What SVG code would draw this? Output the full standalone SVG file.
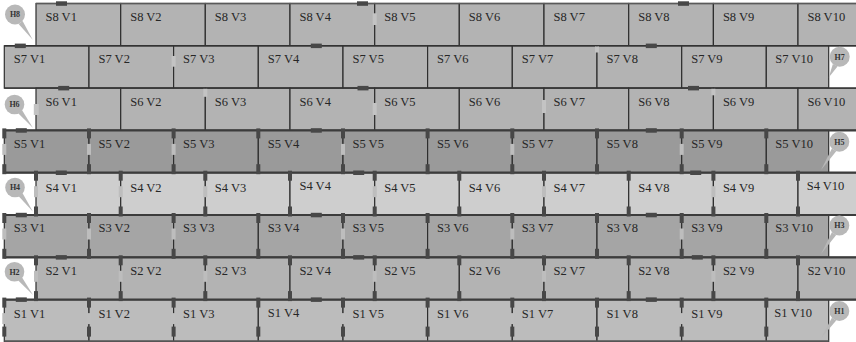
<svg xmlns="http://www.w3.org/2000/svg" xmlns:xlink="http://www.w3.org/1999/xlink" width="856" height="342" viewBox="0 0 856 342">
<style>
rect.c{stroke:#2e2e2e;stroke-width:1.2}
.a{fill:#b3b3b3}.s5{fill:#9a9a9a}.s4{fill:#cecece}.s3{fill:#a5a5a5}.s2{fill:#b3b3b3}.s1{fill:#bcbcbc}
text.t{font-family:"Liberation Serif","Times New Roman",serif;font-size:12.5px;fill:#262626}
.hb,.vb{fill:#474747}
.lb{fill:#bdbdbd}
.lu{fill:#c3c3c3}
.hl{fill:#b8b8b8}
text.h{font-family:"Liberation Serif","Times New Roman",serif;font-size:8px;font-weight:bold;fill:#333;text-anchor:middle}
line.b{stroke-linecap:butt}
</style>
<defs>
<g id="m1"><rect class="vb" x="-2" y="-2" width="4" height="10"/><rect class="lb" x="-2" y="13.5" width="4" height="11"/><rect class="vb" x="-2" y="33.8" width="4" height="10"/></g>
<g id="m0"><rect class="vb" x="-2" y="-2" width="4" height="10"/><rect class="vb" x="-2" y="33.8" width="4" height="10"/></g>
<g id="n1"><rect class="vb" x="-2" y="-2" width="4" height="10"/><rect class="lb" x="-2" y="13.5" width="4" height="11"/><rect class="vb" x="-2" y="27" width="4" height="10"/></g>
<g id="n0"><rect class="vb" x="-2" y="-2" width="4" height="10"/><rect class="vb" x="-2" y="27" width="4" height="10"/></g>
</defs>
<rect width="856" height="342" fill="#fff"/>
<g id="row-s8">
<g id="s8v1"><rect class="c a" x="36" y="3.5" width="84.7" height="42.3"/><text class="t" x="45.5" y="20.8">S8 V1</text></g>
<g id="s8v2"><rect class="c a" x="120.7" y="3.5" width="84.6" height="42.3"/><text class="t" x="130.2" y="20.8">S8 V2</text></g>
<g id="s8v3"><rect class="c a" x="205.3" y="3.5" width="84.7" height="42.3"/><text class="t" x="214.8" y="20.8">S8 V3</text></g>
<g id="s8v4"><rect class="c a" x="290" y="3.5" width="84.7" height="42.3"/><text class="t" x="299.5" y="20.8">S8 V4</text></g>
<g id="s8v5"><rect class="c a" x="374.7" y="3.5" width="84.6" height="42.3"/><text class="t" x="384.2" y="20.8">S8 V5</text></g>
<g id="s8v6"><rect class="c a" x="459.3" y="3.5" width="84.7" height="42.3"/><text class="t" x="468.8" y="20.8">S8 V6</text></g>
<g id="s8v7"><rect class="c a" x="544" y="3.5" width="84.7" height="42.3"/><text class="t" x="553.5" y="20.8">S8 V7</text></g>
<g id="s8v8"><rect class="c a" x="628.7" y="3.5" width="84.7" height="42.3"/><text class="t" x="638.2" y="20.8">S8 V8</text></g>
<g id="s8v9"><rect class="c a" x="713.4" y="3.5" width="84.6" height="42.3"/><text class="t" x="722.9" y="20.8">S8 V9</text></g>
<g id="s8v10"><rect class="c a" x="798" y="3.5" width="62" height="42.3"/><text class="t" x="807.5" y="20.8">S8 V10</text></g>
</g>
<g id="row-s7">
<g id="s7v1"><rect class="c a" x="4.3" y="45.8" width="84.7" height="42.3"/><text class="t" x="13.8" y="63.3">S7 V1</text></g>
<g id="s7v2"><rect class="c a" x="89" y="45.8" width="84.6" height="42.3"/><text class="t" x="98.5" y="63.3">S7 V2</text></g>
<g id="s7v3"><rect class="c a" x="173.6" y="45.8" width="84.7" height="42.3"/><text class="t" x="183.1" y="63.3">S7 V3</text></g>
<g id="s7v4"><rect class="c a" x="258.3" y="45.8" width="84.7" height="42.3"/><text class="t" x="267.8" y="63.3">S7 V4</text></g>
<g id="s7v5"><rect class="c a" x="343" y="45.8" width="84.6" height="42.3"/><text class="t" x="352.5" y="63.3">S7 V5</text></g>
<g id="s7v6"><rect class="c a" x="427.6" y="45.8" width="84.7" height="42.3"/><text class="t" x="437.1" y="63.3">S7 V6</text></g>
<g id="s7v7"><rect class="c a" x="512.3" y="45.8" width="84.7" height="42.3"/><text class="t" x="521.8" y="63.3">S7 V7</text></g>
<g id="s7v8"><rect class="c a" x="597" y="45.8" width="84.7" height="42.3"/><text class="t" x="606.5" y="63.3">S7 V8</text></g>
<g id="s7v9"><rect class="c a" x="681.7" y="45.8" width="84.6" height="42.3"/><text class="t" x="691.2" y="63.3">S7 V9</text></g>
<g id="s7v10"><rect class="c a" x="766.3" y="45.8" width="62.4" height="42.3"/><text class="t" x="775.3" y="63.3">S7 V10</text></g>
</g>
<g id="row-s6">
<g id="s6v1"><rect class="c a" x="36" y="88.1" width="84.7" height="42.3"/><text class="t" x="45.5" y="105.8">S6 V1</text></g>
<g id="s6v2"><rect class="c a" x="120.7" y="88.1" width="84.6" height="42.3"/><text class="t" x="130.2" y="105.8">S6 V2</text></g>
<g id="s6v3"><rect class="c a" x="205.3" y="88.1" width="84.7" height="42.3"/><text class="t" x="214.8" y="105.8">S6 V3</text></g>
<g id="s6v4"><rect class="c a" x="290" y="88.1" width="84.7" height="42.3"/><text class="t" x="299.5" y="105.8">S6 V4</text></g>
<g id="s6v5"><rect class="c a" x="374.7" y="88.1" width="84.6" height="42.3"/><text class="t" x="384.2" y="105.8">S6 V5</text></g>
<g id="s6v6"><rect class="c a" x="459.3" y="88.1" width="84.7" height="42.3"/><text class="t" x="468.8" y="105.8">S6 V6</text></g>
<g id="s6v7"><rect class="c a" x="544" y="88.1" width="84.7" height="42.3"/><text class="t" x="553.5" y="105.8">S6 V7</text></g>
<g id="s6v8"><rect class="c a" x="628.7" y="88.1" width="84.7" height="42.3"/><text class="t" x="638.2" y="105.8">S6 V8</text></g>
<g id="s6v9"><rect class="c a" x="713.4" y="88.1" width="84.6" height="42.3"/><text class="t" x="722.9" y="105.8">S6 V9</text></g>
<g id="s6v10"><rect class="c a" x="798" y="88.1" width="62" height="42.3"/><text class="t" x="807.5" y="105.8">S6 V10</text></g>
</g>
<g id="row-s5">
<g id="s5v1"><rect class="c s5" x="4.3" y="130.4" width="84.7" height="42.3"/><text class="t" x="13.8" y="147.6">S5 V1</text></g>
<g id="s5v2"><rect class="c s5" x="89" y="130.4" width="84.6" height="42.3"/><text class="t" x="98.5" y="147.6">S5 V2</text></g>
<g id="s5v3"><rect class="c s5" x="173.6" y="130.4" width="84.7" height="42.3"/><text class="t" x="183.1" y="147.6">S5 V3</text></g>
<g id="s5v4"><rect class="c s5" x="258.3" y="130.4" width="84.7" height="42.3"/><text class="t" x="267.8" y="147.6">S5 V4</text></g>
<g id="s5v5"><rect class="c s5" x="343" y="130.4" width="84.6" height="42.3"/><text class="t" x="352.5" y="147.6">S5 V5</text></g>
<g id="s5v6"><rect class="c s5" x="427.6" y="130.4" width="84.7" height="42.3"/><text class="t" x="437.1" y="147.6">S5 V6</text></g>
<g id="s5v7"><rect class="c s5" x="512.3" y="130.4" width="84.7" height="42.3"/><text class="t" x="521.8" y="147.6">S5 V7</text></g>
<g id="s5v8"><rect class="c s5" x="597" y="130.4" width="84.7" height="42.3"/><text class="t" x="606.5" y="147.6">S5 V8</text></g>
<g id="s5v9"><rect class="c s5" x="681.7" y="130.4" width="84.6" height="42.3"/><text class="t" x="691.2" y="147.6">S5 V9</text></g>
<g id="s5v10"><rect class="c s5" x="766.3" y="130.4" width="62.4" height="42.3"/><text class="t" x="775.3" y="147.6">S5 V10</text></g>
</g>
<g id="row-s4">
<g id="s4v1"><rect class="c s4" x="36" y="172.7" width="84.7" height="42.3"/><text class="t" x="45.5" y="191.6">S4 V1</text></g>
<g id="s4v2"><rect class="c s4" x="120.7" y="172.7" width="84.6" height="42.3"/><text class="t" x="130.2" y="191.6">S4 V2</text></g>
<g id="s4v3"><rect class="c s4" x="205.3" y="172.7" width="84.7" height="42.3"/><text class="t" x="214.8" y="191.6">S4 V3</text></g>
<g id="s4v4"><rect class="c s4" x="290" y="172.7" width="84.7" height="42.3"/><text class="t" x="299.5" y="190">S4 V4</text></g>
<g id="s4v5"><rect class="c s4" x="374.7" y="172.7" width="84.6" height="42.3"/><text class="t" x="384.2" y="191.6">S4 V5</text></g>
<g id="s4v6"><rect class="c s4" x="459.3" y="172.7" width="84.7" height="42.3"/><text class="t" x="468.8" y="191.6">S4 V6</text></g>
<g id="s4v7"><rect class="c s4" x="544" y="172.7" width="84.7" height="42.3"/><text class="t" x="553.5" y="191.6">S4 V7</text></g>
<g id="s4v8"><rect class="c s4" x="628.7" y="172.7" width="84.7" height="42.3"/><text class="t" x="638.2" y="191.6">S4 V8</text></g>
<g id="s4v9"><rect class="c s4" x="713.4" y="172.7" width="84.6" height="42.3"/><text class="t" x="722.9" y="191.6">S4 V9</text></g>
<g id="s4v10"><rect class="c s4" x="798" y="172.7" width="62" height="42.3"/><text class="t" x="806.7" y="190">S4 V10</text></g>
</g>
<g id="row-s3">
<g id="s3v1"><rect class="c s3" x="4.3" y="215" width="84.7" height="42.3"/><text class="t" x="13.8" y="232.2">S3 V1</text></g>
<g id="s3v2"><rect class="c s3" x="89" y="215" width="84.6" height="42.3"/><text class="t" x="98.5" y="232.2">S3 V2</text></g>
<g id="s3v3"><rect class="c s3" x="173.6" y="215" width="84.7" height="42.3"/><text class="t" x="183.1" y="232.2">S3 V3</text></g>
<g id="s3v4"><rect class="c s3" x="258.3" y="215" width="84.7" height="42.3"/><text class="t" x="267.8" y="232.2">S3 V4</text></g>
<g id="s3v5"><rect class="c s3" x="343" y="215" width="84.6" height="42.3"/><text class="t" x="352.5" y="232.2">S3 V5</text></g>
<g id="s3v6"><rect class="c s3" x="427.6" y="215" width="84.7" height="42.3"/><text class="t" x="437.1" y="232.2">S3 V6</text></g>
<g id="s3v7"><rect class="c s3" x="512.3" y="215" width="84.7" height="42.3"/><text class="t" x="521.8" y="232.2">S3 V7</text></g>
<g id="s3v8"><rect class="c s3" x="597" y="215" width="84.7" height="42.3"/><text class="t" x="606.5" y="232.2">S3 V8</text></g>
<g id="s3v9"><rect class="c s3" x="681.7" y="215" width="84.6" height="42.3"/><text class="t" x="691.2" y="232.2">S3 V9</text></g>
<g id="s3v10"><rect class="c s3" x="766.3" y="215" width="62.4" height="42.3"/><text class="t" x="775.3" y="232.2">S3 V10</text></g>
</g>
<g id="row-s2">
<g id="s2v1"><rect class="c s2" x="36" y="257.3" width="84.7" height="42.3"/><text class="t" x="45.5" y="274.5">S2 V1</text></g>
<g id="s2v2"><rect class="c s2" x="120.7" y="257.3" width="84.6" height="42.3"/><text class="t" x="130.2" y="274.5">S2 V2</text></g>
<g id="s2v3"><rect class="c s2" x="205.3" y="257.3" width="84.7" height="42.3"/><text class="t" x="214.8" y="274.5">S2 V3</text></g>
<g id="s2v4"><rect class="c s2" x="290" y="257.3" width="84.7" height="42.3"/><text class="t" x="299.5" y="274.5">S2 V4</text></g>
<g id="s2v5"><rect class="c s2" x="374.7" y="257.3" width="84.6" height="42.3"/><text class="t" x="384.2" y="274.5">S2 V5</text></g>
<g id="s2v6"><rect class="c s2" x="459.3" y="257.3" width="84.7" height="42.3"/><text class="t" x="468.8" y="274.5">S2 V6</text></g>
<g id="s2v7"><rect class="c s2" x="544" y="257.3" width="84.7" height="42.3"/><text class="t" x="553.5" y="274.5">S2 V7</text></g>
<g id="s2v8"><rect class="c s2" x="628.7" y="257.3" width="84.7" height="42.3"/><text class="t" x="638.2" y="274.5">S2 V8</text></g>
<g id="s2v9"><rect class="c s2" x="713.4" y="257.3" width="84.6" height="42.3"/><text class="t" x="722.9" y="274.5">S2 V9</text></g>
<g id="s2v10"><rect class="c s2" x="798" y="257.3" width="62" height="42.3"/><text class="t" x="807.5" y="274.5">S2 V10</text></g>
</g>
<g id="row-s1">
<g id="s1v1"><rect class="c s1" x="4.3" y="299.6" width="84.7" height="42.3"/><text class="t" x="13.8" y="318.4">S1 V1</text></g>
<g id="s1v2"><rect class="c s1" x="89" y="299.6" width="84.6" height="42.3"/><text class="t" x="98.5" y="318.4">S1 V2</text></g>
<g id="s1v3"><rect class="c s1" x="173.6" y="299.6" width="84.7" height="42.3"/><text class="t" x="183.1" y="318.4">S1 V3</text></g>
<g id="s1v4"><rect class="c s1" x="258.3" y="299.6" width="84.7" height="42.3"/><text class="t" x="267.8" y="316.6">S1 V4</text></g>
<g id="s1v5"><rect class="c s1" x="343" y="299.6" width="84.6" height="42.3"/><text class="t" x="352.5" y="318.4">S1 V5</text></g>
<g id="s1v6"><rect class="c s1" x="427.6" y="299.6" width="84.7" height="42.3"/><text class="t" x="437.1" y="318.4">S1 V6</text></g>
<g id="s1v7"><rect class="c s1" x="512.3" y="299.6" width="84.7" height="42.3"/><text class="t" x="521.8" y="318.4">S1 V7</text></g>
<g id="s1v8"><rect class="c s1" x="597" y="299.6" width="84.7" height="42.3"/><text class="t" x="606.5" y="318.4">S1 V8</text></g>
<g id="s1v9"><rect class="c s1" x="681.7" y="299.6" width="84.6" height="42.3"/><text class="t" x="691.2" y="318.4">S1 V9</text></g>
<g id="s1v10"><rect class="c s1" x="766.3" y="299.6" width="62.4" height="42.3"/><text class="t" x="774.3" y="316.8">S1 V10</text></g>
</g>
<g id="borders">
<line class="b" x1="36" y1="3.5" x2="856" y2="3.5" stroke="#5a5a5a" stroke-width="1.6"/>
<line class="b" x1="4.3" y1="45.8" x2="856" y2="45.8" stroke="#333" stroke-width="1.4"/>
<line class="b" x1="4.3" y1="88.1" x2="856" y2="88.1" stroke="#333" stroke-width="1.4"/>
<line class="b" x1="4.3" y1="130.4" x2="856" y2="130.4" stroke="#3c3c3c" stroke-width="2.2"/>
<line class="b" x1="4.3" y1="172.7" x2="856" y2="172.7" stroke="#3c3c3c" stroke-width="2.2"/>
<line class="b" x1="4.3" y1="215" x2="856" y2="215" stroke="#3c3c3c" stroke-width="2.2"/>
<line class="b" x1="4.3" y1="257.3" x2="856" y2="257.3" stroke="#3c3c3c" stroke-width="2.2"/>
<line class="b" x1="4.3" y1="299.6" x2="856" y2="299.6" stroke="#3c3c3c" stroke-width="2.2"/>
<line class="b" x1="4.3" y1="341.2" x2="828.7" y2="341.2" stroke="#555" stroke-width="1.8"/>
</g>
<g id="markers">
<rect class="lu" x="372.7" y="13.3" width="4" height="11.7"/>
<rect class="lu" x="171.6" y="56" width="4" height="10.7"/>
<rect class="lu" x="595" y="46.5" width="4" height="6"/>
<rect class="lu" x="33.8" y="104" width="5" height="11"/>
<rect class="lu" x="203.3" y="88.8" width="4" height="8"/>
<rect class="lu" x="372.7" y="103" width="4" height="12"/>
<rect class="lu" x="542" y="100" width="4" height="13"/>
<rect class="lu" x="711.4" y="88.8" width="4" height="6.5"/>
<use xlink:href="#m1" x="4.3" y="130.4"/><use xlink:href="#m1" x="89" y="130.4"/><use xlink:href="#m1" x="173.6" y="130.4"/><use xlink:href="#m0" x="258.3" y="130.4"/><use xlink:href="#m1" x="343" y="130.4"/><use xlink:href="#m0" x="427.6" y="130.4"/><use xlink:href="#m1" x="512.3" y="130.4"/><use xlink:href="#m0" x="597" y="130.4"/><use xlink:href="#m1" x="681.7" y="130.4"/><use xlink:href="#m0" x="766.3" y="130.4"/>
<use xlink:href="#m1" x="36" y="172.7"/><use xlink:href="#m1" x="120.7" y="172.7"/><use xlink:href="#m1" x="205.3" y="172.7"/><use xlink:href="#m0" x="290" y="172.7"/><use xlink:href="#m1" x="374.7" y="172.7"/><use xlink:href="#m0" x="459.3" y="172.7"/><use xlink:href="#m1" x="544" y="172.7"/><use xlink:href="#m0" x="628.7" y="172.7"/><use xlink:href="#m1" x="713.4" y="172.7"/><use xlink:href="#m0" x="798" y="172.7"/>
<use xlink:href="#m1" x="4.3" y="215"/><use xlink:href="#m1" x="89" y="215"/><use xlink:href="#m1" x="173.6" y="215"/><use xlink:href="#m0" x="258.3" y="215"/><use xlink:href="#m1" x="343" y="215"/><use xlink:href="#m0" x="427.6" y="215"/><use xlink:href="#m1" x="512.3" y="215"/><use xlink:href="#m0" x="597" y="215"/><use xlink:href="#m1" x="681.7" y="215"/><use xlink:href="#m0" x="766.3" y="215"/>
<use xlink:href="#m1" x="36" y="257.3"/><use xlink:href="#m1" x="120.7" y="257.3"/><use xlink:href="#m1" x="205.3" y="257.3"/><use xlink:href="#m0" x="290" y="257.3"/><use xlink:href="#m1" x="374.7" y="257.3"/><use xlink:href="#m0" x="459.3" y="257.3"/><use xlink:href="#m1" x="544" y="257.3"/><use xlink:href="#m0" x="628.7" y="257.3"/><use xlink:href="#m1" x="713.4" y="257.3"/><use xlink:href="#m0" x="798" y="257.3"/>
<use xlink:href="#n1" x="4.3" y="299.6"/><use xlink:href="#n1" x="89" y="299.6"/><use xlink:href="#n1" x="173.6" y="299.6"/><use xlink:href="#n0" x="258.3" y="299.6"/><use xlink:href="#n1" x="343" y="299.6"/><use xlink:href="#n0" x="427.6" y="299.6"/><use xlink:href="#n1" x="512.3" y="299.6"/><use xlink:href="#n0" x="597" y="299.6"/><use xlink:href="#n1" x="681.7" y="299.6"/><use xlink:href="#n0" x="766.3" y="299.6"/>
<rect class="hb" x="56" y="1.3" width="11" height="4.5"/><rect class="hb" x="357" y="1.3" width="11" height="4.5"/><rect class="hb" x="678" y="1.3" width="11" height="4.5"/>
<rect class="hb" x="14.8" y="43.6" width="11" height="4.5"/><rect class="hb" x="310.8" y="43.6" width="11" height="4.5"/><rect class="hb" x="645.8" y="43.6" width="11" height="4.5"/>
<rect class="hb" x="58.2" y="85.9" width="11" height="4.5"/><rect class="hb" x="357.5" y="85.9" width="11" height="4.5"/><rect class="hb" x="688" y="85.9" width="11" height="4.5"/>
<rect class="hb" x="15.8" y="128.2" width="11" height="4.5"/><rect class="hb" x="310.8" y="128.2" width="11" height="4.5"/><rect class="hb" x="645.8" y="128.2" width="11" height="4.5"/>
<rect class="hb" x="55.8" y="170.5" width="11" height="4.5"/><rect class="hb" x="353.2" y="170.5" width="11" height="4.5"/><rect class="hb" x="690.2" y="170.5" width="11" height="4.5"/>
<rect class="hb" x="15.8" y="212.8" width="11" height="4.5"/><rect class="hb" x="310.8" y="212.8" width="11" height="4.5"/><rect class="hb" x="645.8" y="212.8" width="11" height="4.5"/>
<rect class="hb" x="55.8" y="255.1" width="11" height="4.5"/><rect class="hb" x="353.2" y="255.1" width="11" height="4.5"/><rect class="hb" x="691.8" y="255.1" width="11" height="4.5"/>
<rect class="hb" x="15.8" y="297.4" width="11" height="4.5"/><rect class="hb" x="310.8" y="297.4" width="11" height="4.5"/><rect class="hb" x="645.8" y="297.4" width="11" height="4.5"/>
</g>
<g id="H8"><path class="hl" d="M22.6 21 L32.7 39.7 L18.6 24 Z"/><circle class="hl" cx="15" cy="14.5" r="10"/><text class="h" x="15" y="17.3">H8</text></g>
<g id="H6"><path class="hl" d="M22.1 110.2 L33 128 L18.2 113.2 Z"/><circle class="hl" cx="14.5" cy="104.5" r="9.8"/><text class="h" x="14.5" y="107.3">H6</text></g>
<g id="H4"><path class="hl" d="M22.6 193.2 L33 211.7 L18.7 196.2 Z"/><circle class="hl" cx="15" cy="187.5" r="9.8"/><text class="h" x="15" y="190.3">H4</text></g>
<g id="H2"><path class="hl" d="M22.1 277.4 L33 295 L18.2 280.4 Z"/><circle class="hl" cx="14.5" cy="271.7" r="9.8"/><text class="h" x="14.5" y="274.5">H2</text></g>
<g id="H7"><path class="hl" d="M837.5 66.4 L828.7 77.5 L832.9 64 Z"/><circle class="hl" cx="839.7" cy="56.7" r="10"/><text class="h" x="839.7" y="59.5">H7</text></g>
<g id="H5"><path class="hl" d="M836.2 151.2 L821 170 L831.9 148.4 Z"/><circle class="hl" cx="839.3" cy="141.7" r="10"/><text class="h" x="839.3" y="144.5">H5</text></g>
<g id="H3"><path class="hl" d="M836.2 235 L821 254 L831.9 232.2 Z"/><circle class="hl" cx="839.3" cy="225.5" r="10"/><text class="h" x="839.3" y="228.3">H3</text></g>
<g id="H1"><path class="hl" d="M836.2 320.5 L821 338.3 L831.9 317.7 Z"/><circle class="hl" cx="839.3" cy="311" r="10"/><text class="h" x="839.3" y="313.8">H1</text></g>
</svg>
